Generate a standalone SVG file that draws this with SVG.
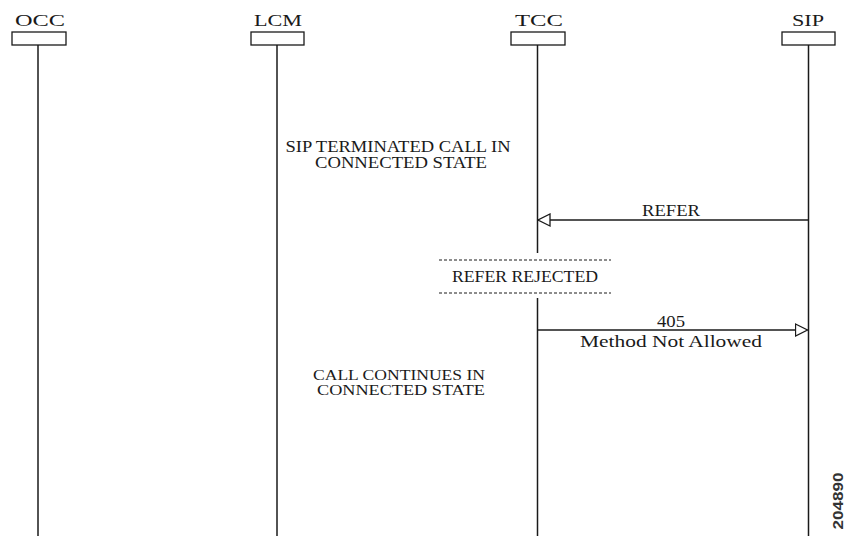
<svg xmlns="http://www.w3.org/2000/svg" width="846" height="540" viewBox="0 0 846 540">
<style>
.t{font-family:"Liberation Serif","Times New Roman",serif;font-size:16px;fill:#1a1a1a;text-anchor:middle}
.s{font-size:15px}
.box{fill:#fff;stroke:#1a1a1a;stroke-width:1.3}
.life{stroke:#1a1a1a;stroke-width:1.5;fill:none}
.msg{stroke:#1a1a1a;stroke-width:1.3;fill:none}
.dash{stroke:#1a1a1a;stroke-width:1;stroke-dasharray:3 2;fill:none}
</style>
<defs>
<marker id="open" viewBox="0 0 14 14" refX="13" refY="7" markerWidth="14" markerHeight="14" markerUnits="userSpaceOnUse" orient="auto">
<path d="M1,1 L13,7 L1,13 Z" fill="#fff" stroke="#1a1a1a" stroke-width="1.3"/>
</marker>
</defs>
<rect width="846" height="540" fill="#fff"/>
<g id="OCC">
<text class="t" x="40" y="26" textLength="50" lengthAdjust="spacingAndGlyphs">OCC</text>
<rect class="box" x="12" y="32" width="54" height="13"/>
<line class="life" x1="38" y1="45" x2="38" y2="536"/>
</g>
<g id="LCM">
<text class="t" x="278" y="26" textLength="48" lengthAdjust="spacingAndGlyphs">LCM</text>
<rect class="box" x="251" y="32" width="53" height="13"/>
<line class="life" x1="277" y1="45" x2="277" y2="536"/>
</g>
<g id="TCC">
<text class="t" x="539" y="26" textLength="48" lengthAdjust="spacingAndGlyphs">TCC</text>
<rect class="box" x="511" y="32" width="54" height="13"/>
<line class="life" x1="537.5" y1="45" x2="537.5" y2="253"/>
<line class="life" x1="537.5" y1="298" x2="537.5" y2="536"/>
</g>
<g id="SIP">
<text class="t" x="808" y="26" textLength="32" lengthAdjust="spacingAndGlyphs">SIP</text>
<rect class="box" x="782" y="32" width="53" height="13"/>
<line class="life" x1="808.5" y1="45" x2="808.5" y2="536"/>
</g>
<g id="note-terminated">
<text class="t" x="398" y="152" textLength="225" lengthAdjust="spacingAndGlyphs">SIP TERMINATED CALL IN</text>
<text class="t" x="401" y="168" textLength="172" lengthAdjust="spacingAndGlyphs">CONNECTED STATE</text>
</g>
<g id="note-rejected">
<line class="dash" x1="439" y1="260" x2="611" y2="260"/>
<text class="t" x="525" y="282" textLength="146" lengthAdjust="spacingAndGlyphs">REFER REJECTED</text>
<line class="dash" x1="439" y1="293" x2="611" y2="293"/>
</g>
<g id="note-continues">
<text class="t s" x="399" y="380" textLength="172" lengthAdjust="spacingAndGlyphs">CALL CONTINUES IN</text>
<text class="t s" x="401" y="395" textLength="168" lengthAdjust="spacingAndGlyphs">CONNECTED STATE</text>
</g>
<g id="connectors">
<line class="msg" x1="808" y1="220" x2="538" y2="220" marker-end="url(#open)"/>
<text class="t" x="671" y="216" textLength="58" lengthAdjust="spacingAndGlyphs">REFER</text>
<line class="msg" x1="538" y1="330" x2="807.5" y2="330" marker-end="url(#open)"/>
<text class="t" x="671" y="327" textLength="28" lengthAdjust="spacingAndGlyphs">405</text>
<text class="t" x="671" y="347" textLength="182" lengthAdjust="spacingAndGlyphs">Method Not Allowed</text>
</g>
<text x="0" y="0" transform="translate(843,501) rotate(-90)" style="font-family:'Liberation Sans',Arial,sans-serif;font-size:15px;font-weight:bold;fill:#333;text-anchor:middle" textLength="57" lengthAdjust="spacingAndGlyphs">204890</text>
</svg>
